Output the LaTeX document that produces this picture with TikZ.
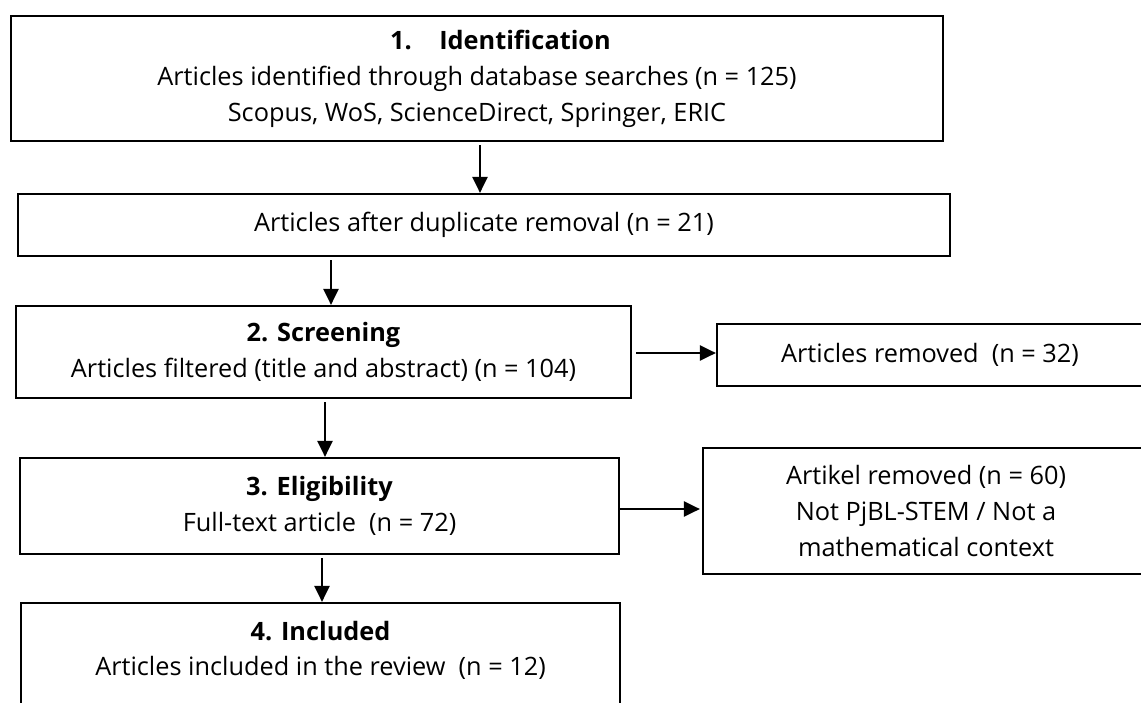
\documentclass[tikz,border=0pt]{standalone}
\usepackage{fontspec}
\setmainfont{Open Sans}
\usetikzlibrary{arrows.meta}
\begin{document}
\begin{tikzpicture}[x=1pt,y=-1pt,
  box/.style={draw=black, line width=2.2pt, inner sep=0pt, align=center, font=\fontsize{25.3}{36}\selectfont},
  lbl/.style={inner sep=0pt, align=center, font=\fontsize{25.3}{35.5}\selectfont},
  arr/.style={line width=2.2pt, -{Triangle[length=16pt,width=15pt]}},
]
\useasboundingbox (0,0) rectangle (1141,702);
\clip (0,0) rectangle (1141,702);
\node[box, minimum width=932pt, minimum height=125pt] (b1) at (477,78.5)
  {\hspace*{47pt}\textbf{1.\hspace{27.5pt}Identification}\\Articles identified through database searches (n = 125)\\Scopus, WoS, ScienceDirect, Springer, ERIC};
\node[box, minimum width=932pt, minimum height=62pt] (b2) at (484,225)
  {Articles after duplicate removal (n = 21)};
\node[box, minimum width=615pt, minimum height=92pt] (b3) at (323.5,352)
  {\textbf{2. Screening}\\Articles filtered (title and abstract) (n = 104)};
\node[box, minimum width=426pt, minimum height=62pt] (r1) at (930,355)
  {Articles removed\ \ (n = 32)};
\node[box, minimum width=599pt, minimum height=96pt] (b4) at (319.5,506)
  {\textbf{3. Eligibility}\\Full-text article\ \ (n = 72)};
\node[box, minimum width=446pt, minimum height=126pt] (r2) at (926,511)
  {Artikel removed (n = 60)\\Not PjBL-STEM / Not a\\mathematical context};
\node[box, minimum width=599pt, minimum height=108pt] (b5) at (320.5,657) {};
\node[lbl] (b5t) at (320.5,650.5)
  {\textbf{4. Included}\\Articles included in the review\ \ (n = 12)};
\coordinate (c1) at (480,0);
\coordinate (c2) at (331,0);
\coordinate (c3) at (325,0);
\coordinate (c4) at (322,0);
\coordinate (c5) at (0,353);
\coordinate (c6) at (0,509);
\draw[arr, shorten <=3pt] (c1 |- b1.south) -- (c1 |- b2.north);
\draw[arr, shorten <=3pt] (c2 |- b2.south) -- (c2 |- b3.north);
\draw[arr, shorten <=3pt] (c3 |- b3.south) -- (c3 |- b4.north);
\draw[arr, shorten <=3pt] (c4 |- b4.south) -- (c4 |- b5.north);
\draw[arr, shorten <=4pt] (b3.east |- c5) -- (r1.west |- c5);
\draw[arr, shorten >=2pt] (b4.east |- c6) -- (r2.west |- c6);
\end{tikzpicture}
\end{document}
